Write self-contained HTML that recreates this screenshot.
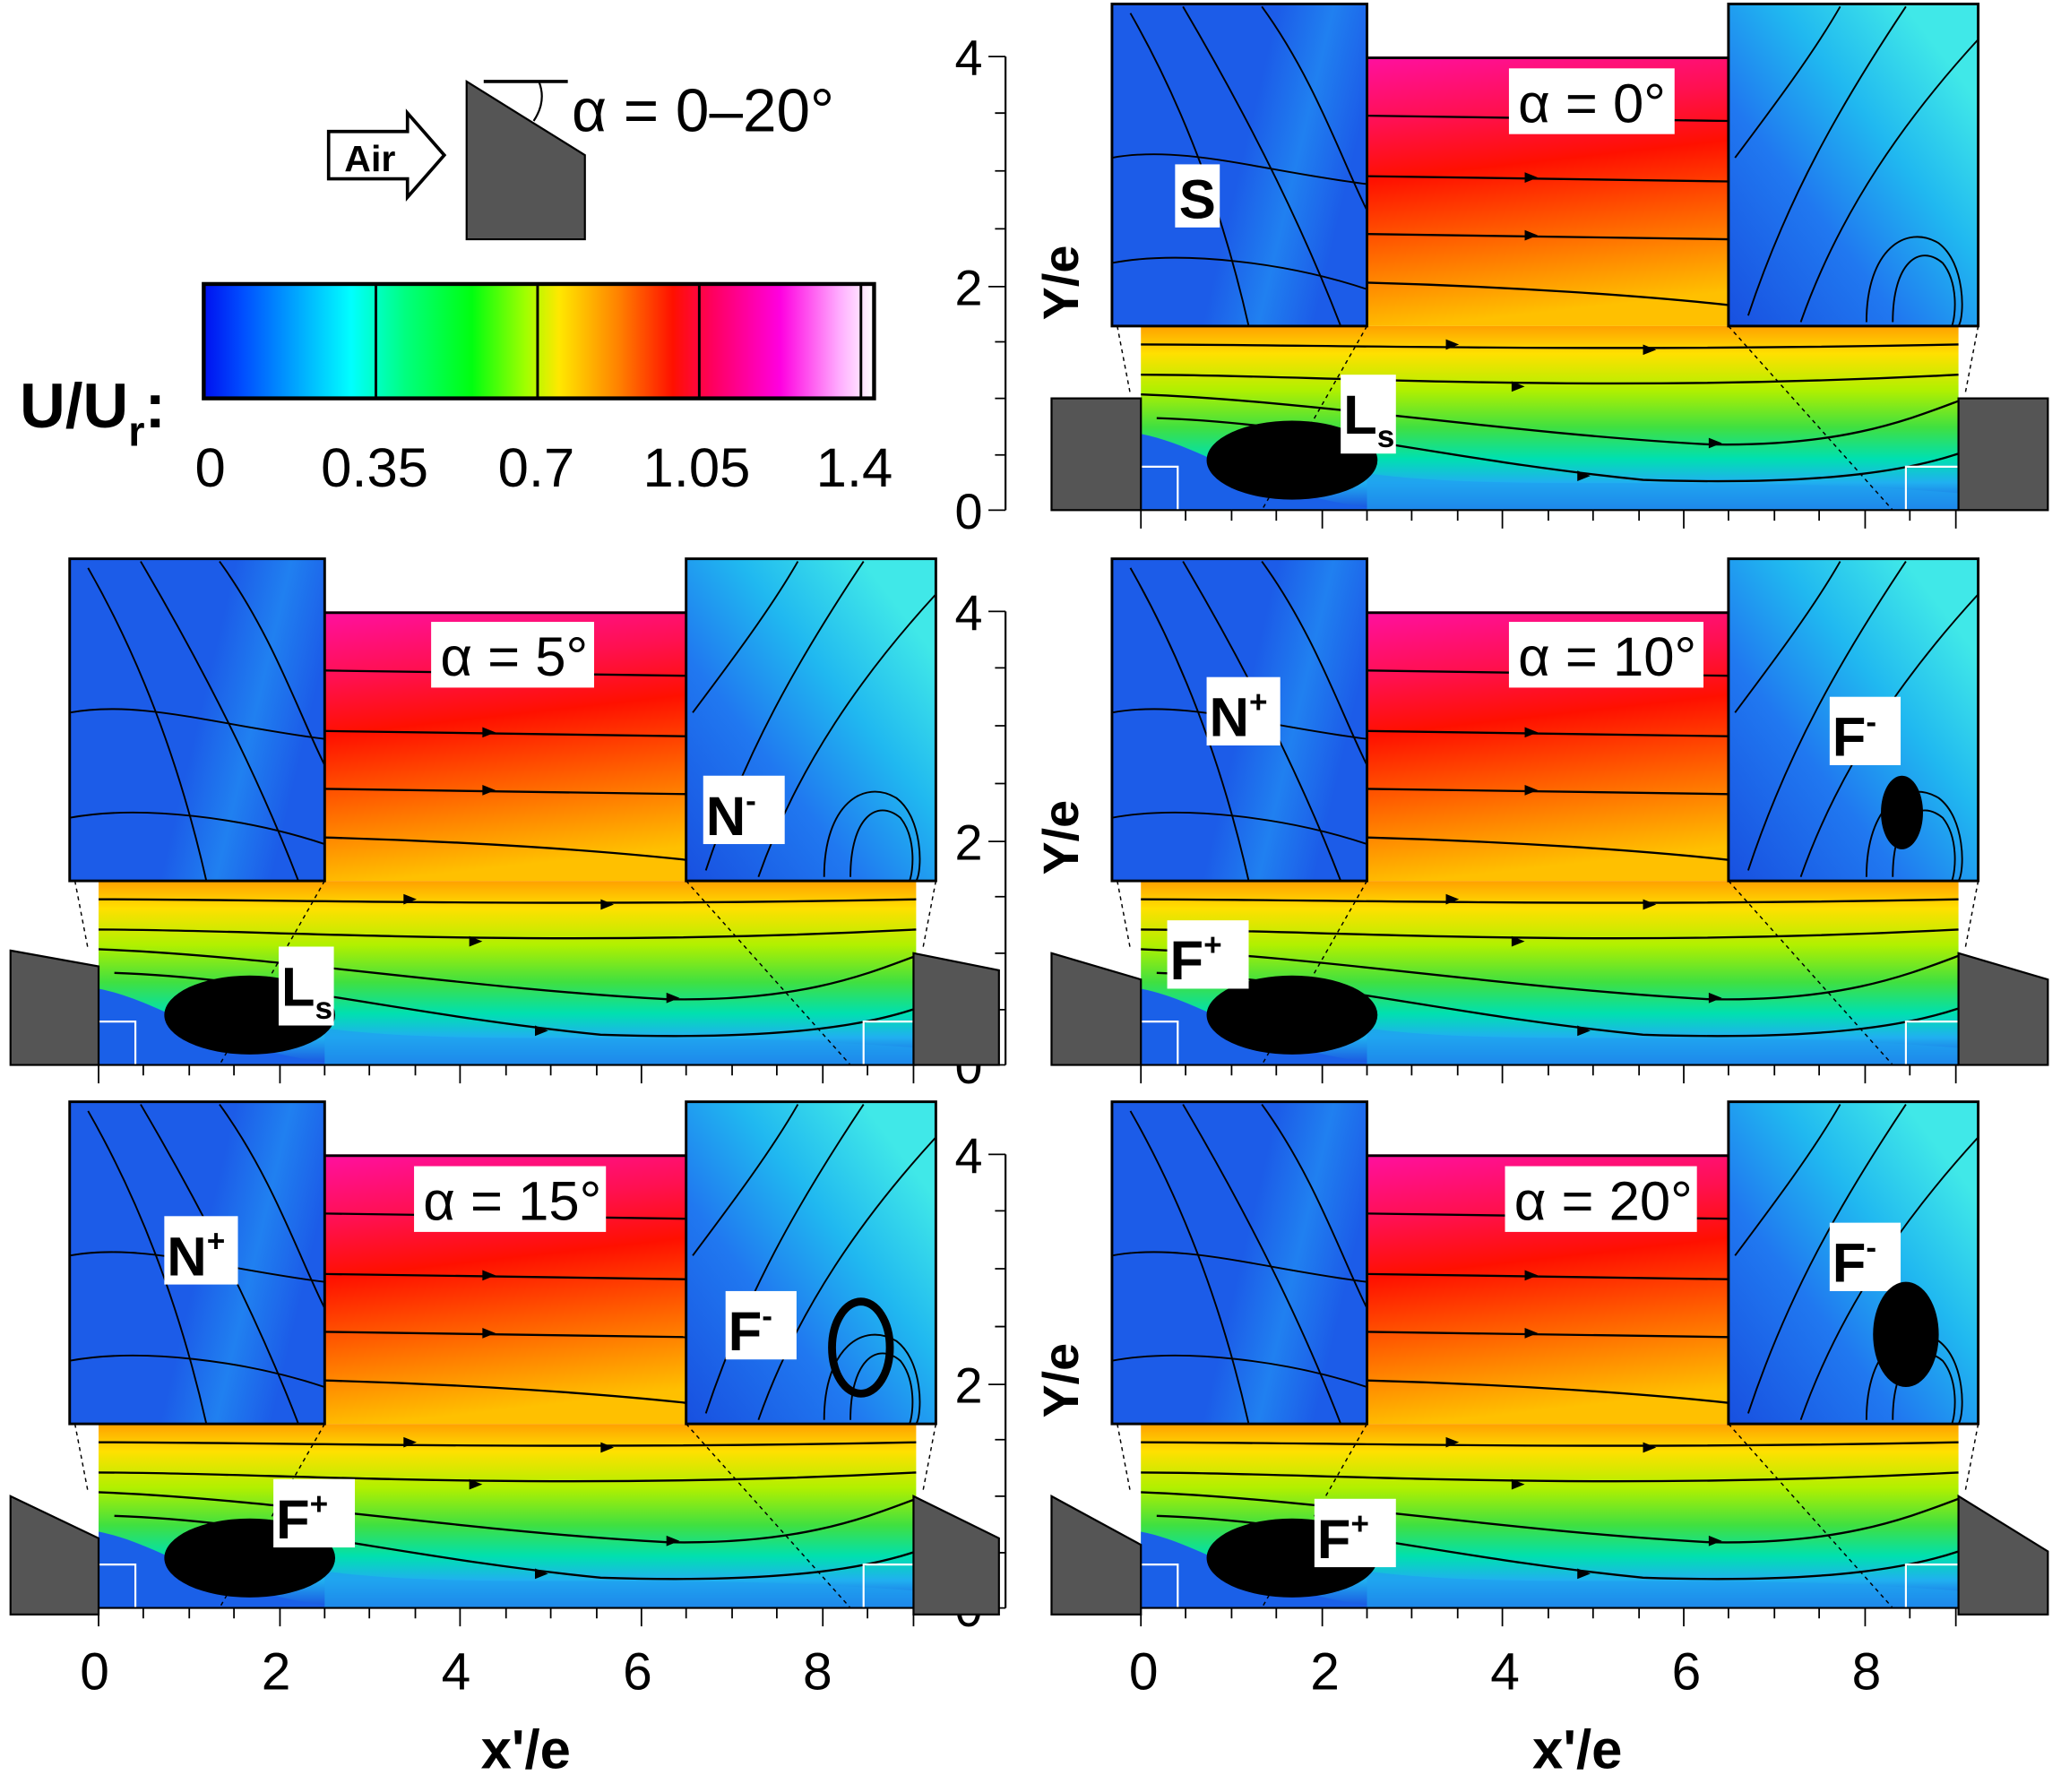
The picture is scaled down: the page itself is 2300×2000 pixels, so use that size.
<!DOCTYPE html>
<html><head><meta charset="utf-8"><style>
html,body{margin:0;padding:0;background:#fff;width:2300px;height:2000px;overflow:hidden}
svg{display:block}
text{font-family:"Liberation Sans",sans-serif}
</style></head><body>
<svg width="2300" height="2000" viewBox="0 0 1568 1363" preserveAspectRatio="none" xmlns="http://www.w3.org/2000/svg">
<defs>
<linearGradient id="cb" x1="0" x2="1" y1="0" y2="0">
<stop offset="0" stop-color="#0010f0"/><stop offset="0.06" stop-color="#0050ff"/><stop offset="0.14" stop-color="#00a8ff"/><stop offset="0.22" stop-color="#00ffff"/><stop offset="0.3" stop-color="#00ff80"/><stop offset="0.4" stop-color="#00ff10"/><stop offset="0.48" stop-color="#a0ff00"/><stop offset="0.53" stop-color="#ffe800"/><stop offset="0.62" stop-color="#ff8000"/><stop offset="0.7" stop-color="#ff1000"/><stop offset="0.76" stop-color="#ff0060"/><stop offset="0.86" stop-color="#ff00e0"/><stop offset="0.95" stop-color="#ffb0ff"/><stop offset="1" stop-color="#ffffff"/>
</linearGradient>
<linearGradient id="mainG" x1="0" x2="0" y1="0" y2="1">
<stop offset="0" stop-color="#ffa000"/><stop offset="0.15" stop-color="#ffe000"/><stop offset="0.35" stop-color="#b0f000"/><stop offset="0.55" stop-color="#40e040"/><stop offset="0.72" stop-color="#00e0b0"/><stop offset="0.85" stop-color="#20b0f0"/><stop offset="1" stop-color="#1a50e0"/>
</linearGradient>
<linearGradient id="midG" x1="0" x2="0.15" y1="0" y2="1">
<stop offset="0" stop-color="#ff10a0"/><stop offset="0.25" stop-color="#ff1050"/><stop offset="0.45" stop-color="#ff1000"/><stop offset="0.7" stop-color="#ff6000"/><stop offset="0.9" stop-color="#ffa000"/><stop offset="1" stop-color="#ffc000"/>
</linearGradient>
<linearGradient id="lInG" x1="0" x2="1" y1="0" y2="0.3">
<stop offset="0" stop-color="#1c5ce8"/><stop offset="0.6" stop-color="#1c5ce8"/><stop offset="0.8" stop-color="#2080f0"/><stop offset="1" stop-color="#1c5ce8"/>
</linearGradient>
<linearGradient id="rInG" x1="0" x2="1" y1="1" y2="0">
<stop offset="0" stop-color="#1850e0"/><stop offset="0.35" stop-color="#2078f0"/><stop offset="0.6" stop-color="#20b8f0"/><stop offset="0.85" stop-color="#40e8e8"/><stop offset="1" stop-color="#40e8e8"/>
</linearGradient>
<g id="panel">
<rect x="868" y="248" width="622" height="140" fill="url(#mainG)"/>
<path d="M868,330 C920,340 960,380 1060,388 L868,388 Z" fill="#1a60e8"/>
<path d="M1040,360 C1150,375 1300,360 1490,375 L1490,388 L1040,388 Z" fill="#20a0f0" opacity="0.7"/>
<rect x="1040" y="43" width="275" height="205" fill="url(#midG)"/>
<line x1="1040" y1="44" x2="1315" y2="44" stroke="#000" stroke-width="2"/>
<g fill="none" stroke="#000" stroke-width="1.6">
<path d="M868,262 C1000,262 1200,268 1490,262"/>
<path d="M868,285 C1000,285 1200,300 1490,285"/>
<path d="M868,300 C1000,305 1150,330 1300,338 C1400,340 1450,320 1490,305"/>
<path d="M880,318 C1000,322 1100,350 1250,365 C1400,370 1460,355 1490,345"/>
<path d="M1040,88 L1315,92"/><path d="M1040,134 L1315,138"/><path d="M1040,178 L1315,182"/><path d="M1040,215 C1150,218 1250,225 1315,232"/>
</g>
<g fill="#000"><path d="M1100,258 l10,4 l-10,4z"/><path d="M1250,262 l10,4 l-10,4z"/><path d="M1150,290 l10,4 l-10,4z"/><path d="M1300,333 l10,4 l-10,4z"/><path d="M1200,358 l10,4 l-10,4z"/><path d="M1160,85 l10,4 l-10,4z"/><path d="M1160,131 l10,4 l-10,4z"/><path d="M1160,175 l10,4 l-10,4z"/></g>
<ellipse cx="983" cy="350" rx="65" ry="30" fill="#000"/>
<rect x="846" y="3" width="194" height="245" fill="url(#lInG)" stroke="#000" stroke-width="2"/>
<rect x="1315" y="3" width="190" height="245" fill="url(#rInG)" stroke="#000" stroke-width="2"/>
<g fill="none" stroke="#000" stroke-width="1.3">
<path d="M860,10 C900,80 930,160 950,248"/><path d="M900,5 C950,90 990,170 1020,248"/><path d="M960,5 C1000,60 1020,120 1040,160"/><path d="M846,120 C900,110 960,130 1040,140"/><path d="M846,200 C900,190 980,200 1040,220"/>
<path d="M1330,240 C1360,150 1400,80 1450,5"/><path d="M1370,245 C1400,160 1450,90 1505,30"/><path d="M1320,120 C1350,80 1380,40 1400,5"/><path d="M1420,245 C1420,190 1450,170 1475,185 C1495,200 1495,240 1490,248"/><path d="M1440,245 C1440,200 1460,185 1478,200 C1490,215 1488,240 1485,248"/>
</g>
<g stroke="#fff" stroke-width="1.5" fill="none"><path d="M868,355 H896 V388"/><path d="M1490,355 H1450 V388"/></g>
<g stroke="#000" stroke-width="1" stroke-dasharray="3,3" fill="none"><path d="M850,248 L860,300"/><path d="M1505,248 L1495,300"/><path d="M1040,248 L960,388"/><path d="M1315,248 L1440,388"/></g>
<line x1="868" y1="388" x2="1490" y2="388" stroke="#000" stroke-width="1.5"/>
<g stroke="#000" stroke-width="1.2">
<path d="M868,388v14M902,388v8M937,388v8M971,388v8M1006,388v14M1040,388v8M1074,388v8M1109,388v8M1143,388v14M1178,388v8M1212,388v8M1247,388v8M1281,388v14M1315,388v8M1350,388v8M1384,388v8M1419,388v14M1453,388v8M1488,388v14"/>
</g>
</g>
<g id="yax">
<line x1="765" y1="43" x2="765" y2="388" stroke="#000" stroke-width="1.5"/>
<path d="M752,43h13M757,86h8M757,130h8M757,174h8M752,218h13M757,260h8M757,303h8M757,346h8M752,388h13" stroke="#000" stroke-width="1.2"/>
<text x="737" y="57" font-size="38" text-anchor="middle">4</text>
<text x="737" y="232" font-size="38" text-anchor="middle">2</text>
<text x="737" y="402" font-size="38" text-anchor="middle">0</text>
<text transform="translate(820,215) rotate(-90)" font-size="38" font-weight="bold" text-anchor="middle">Y/e</text>
</g>
</defs>

<!-- legend -->
<path d="M250,100 H310 V86 L338,118 L310,150 V136 H250 Z" fill="#fff" stroke="#000" stroke-width="2.5"/>
<text x="262" y="130" font-size="28" font-weight="bold">Air</text>
<path d="M355,62 L445,118 V182 H355 Z" fill="#555" stroke="#000" stroke-width="1.5"/>
<line x1="368" y1="62" x2="432" y2="62" stroke="#000" stroke-width="2.5"/>
<path d="M410,62 q6,15 -4,30" fill="none" stroke="#000" stroke-width="1.5"/>
<text x="435" y="100" font-family="Liberation Serif" font-size="46">α = 0–20°</text>
<rect x="155" y="216" width="510" height="87" fill="url(#cb)" stroke="#000" stroke-width="3"/>
<g stroke="#000" stroke-width="2"><line x1="286" y1="216" x2="286" y2="303"/><line x1="409" y1="216" x2="409" y2="303"/><line x1="532" y1="216" x2="532" y2="303"/><line x1="655" y1="216" x2="655" y2="303"/></g>
<text x="15" y="325" font-size="48" font-weight="bold">U/U<tspan font-size="32" dy="14">r</tspan><tspan dy="-14">:</tspan></text>
<g font-size="42" text-anchor="middle"><text x="160" y="370">0</text><text x="285" y="370">0.35</text><text x="408" y="370">0.7</text><text x="530" y="370">1.05</text><text x="650" y="370">1.4</text></g>

<!-- panels -->
<use href="#panel"/>
<use href="#panel" transform="translate(-793,422)"/>
<use href="#panel" transform="translate(0,422)"/>
<use href="#panel" transform="translate(-793,835)"/>
<use href="#panel" transform="translate(0,835)"/>
<use href="#yax"/>
<use href="#yax" transform="translate(0,422)"/>
<use href="#yax" transform="translate(0,835)"/>

<!-- grey blocks -->
<g fill="#555" stroke="#000" stroke-width="1.5">
<rect x="800" y="303" width="68" height="85"/>
<rect x="1490" y="303" width="68" height="85"/>
<path d="M8,723 L75,735 V810 H8 Z"/>
<path d="M695,725 L760,738 V810 H695 Z"/>
<path d="M800,725 L868,745 V810 H800 Z"/>
<path d="M1490,725 L1558,745 V810 H1490 Z"/>
<path d="M8,1138 L75,1170 V1228 H8 Z"/>
<path d="M695,1138 L760,1170 V1228 H695 Z"/>
<path d="M800,1138 L868,1175 V1228 H800 Z"/>
<path d="M1490,1138 L1558,1180 V1228 H1490 Z"/>
</g>

<!-- labels -->
<g font-family="Liberation Serif" font-size="42">
<rect x="1148" y="52" width="126" height="50" fill="#fff"/><text x="1155" y="93">α = 0°</text>
<rect x="328" y="473" width="124" height="50" fill="#fff"/><text x="335" y="514">α = 5°</text>
<rect x="1148" y="473" width="148" height="50" fill="#fff"/><text x="1155" y="514">α = 10°</text>
<rect x="315" y="887" width="146" height="50" fill="#fff"/><text x="322" y="928">α = 15°</text>
<rect x="1145" y="887" width="146" height="50" fill="#fff"/><text x="1152" y="928">α = 20°</text>
</g>
<g font-size="42" font-weight="bold">
<rect x="894" y="125" width="34" height="48" fill="#fff"/><text x="897" y="166">S</text>
<rect x="1020" y="285" width="42" height="60" fill="#fff"/><text x="1022" y="330">L<tspan font-size="24" dy="10">s</tspan></text>
<rect x="212" y="720" width="42" height="60" fill="#fff"/><text x="214" y="765">L<tspan font-size="24" dy="10">s</tspan></text>
<rect x="535" y="590" width="62" height="52" fill="#fff"/><text x="537" y="635">N<tspan font-size="24" dy="-18">-</tspan></text>
<rect x="918" y="515" width="56" height="52" fill="#fff"/><text x="920" y="560">N<tspan font-size="24" dy="-18">+</tspan></text>
<rect x="1392" y="530" width="54" height="52" fill="#fff"/><text x="1394" y="575">F<tspan font-size="24" dy="-18">-</tspan></text>
<rect x="888" y="700" width="62" height="52" fill="#fff"/><text x="890" y="745">F<tspan font-size="24" dy="-18">+</tspan></text>
<rect x="125" y="925" width="56" height="52" fill="#fff"/><text x="127" y="970">N<tspan font-size="24" dy="-18">+</tspan></text>
<rect x="552" y="982" width="54" height="52" fill="#fff"/><text x="554" y="1027">F<tspan font-size="24" dy="-18">-</tspan></text>
<rect x="208" y="1125" width="62" height="52" fill="#fff"/><text x="210" y="1170">F<tspan font-size="24" dy="-18">+</tspan></text>
<rect x="1392" y="930" width="54" height="52" fill="#fff"/><text x="1394" y="975">F<tspan font-size="24" dy="-18">-</tspan></text>
<rect x="1000" y="1140" width="62" height="52" fill="#fff"/><text x="1002" y="1185">F<tspan font-size="24" dy="-18">+</tspan></text>
</g>
<!-- vortex blobs in right insets -->
<ellipse cx="1447" cy="618" rx="16" ry="28" fill="#000"/>
<ellipse cx="655" cy="1025" rx="22" ry="35" fill="none" stroke="#000" stroke-width="6"/>
<ellipse cx="1450" cy="1015" rx="25" ry="40" fill="#000"/>

<!-- x axes -->
<g font-size="40" text-anchor="middle">
<text x="72" y="1285">0</text><text x="210" y="1285">2</text><text x="347" y="1285">4</text><text x="485" y="1285">6</text><text x="622" y="1285">8</text>
<text x="870" y="1285">0</text><text x="1008" y="1285">2</text><text x="1145" y="1285">4</text><text x="1283" y="1285">6</text><text x="1420" y="1285">8</text>
</g>
<g font-size="42" font-weight="bold" text-anchor="middle"><text x="400" y="1345">x'/e</text><text x="1200" y="1345">x'/e</text></g>
</svg>
</body></html>
